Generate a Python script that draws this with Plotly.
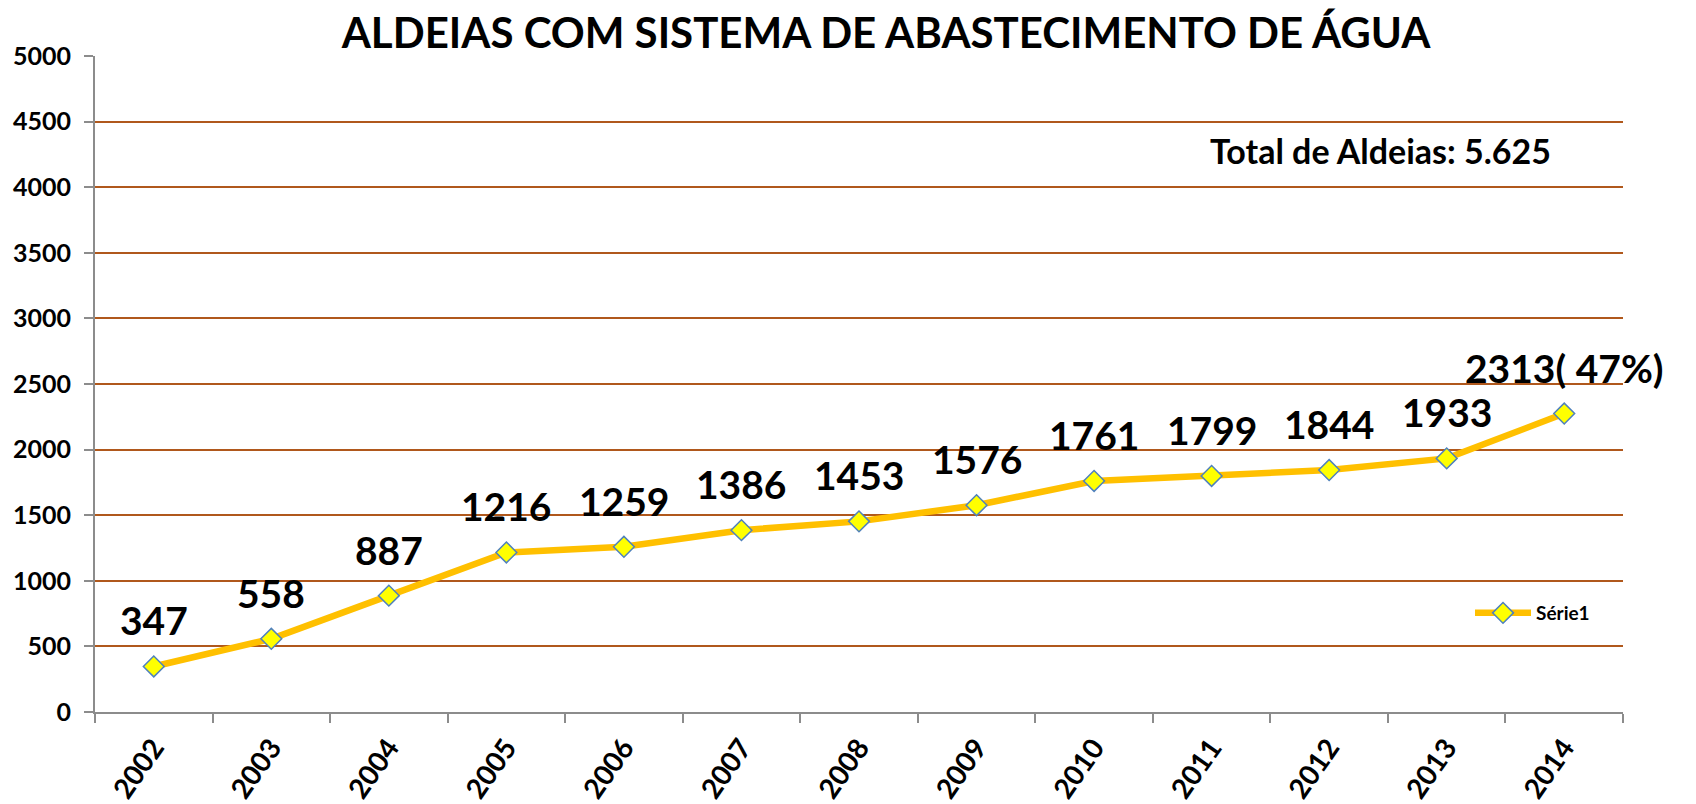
import plotly.graph_objects as go

years = ["2002", "2003", "2004", "2005", "2006", "2007", "2008",
         "2009", "2010", "2011", "2012", "2013", "2014"]
values = [347, 558, 887, 1216, 1259, 1386, 1453, 1576, 1761, 1799, 1844, 1933, 2275]
point_labels = ["347", "558", "887", "1216", "1259", "1386", "1453",
                "1576", "1761", "1799", "1844", "1933", "2313( 47%)"]
y_ticks = [0, 500, 1000, 1500, 2000, 2500, 3000, 3500, 4000, 4500, 5000]
series_name = "Série1"
title_text = "ALDEIAS COM SISTEMA DE ABASTECIMENTO DE ÁGUA"
total_text = "Total de Aldeias: 5.625"

FONT = "Lato"
GRID = "#B0581C"
AXIS = "#8C8C8C"

W, H = 1688, 796
L, R, T, B = 87, 73, 48, 92
PW, PH = W - L - R, H - T - B

fig = go.Figure()
fig.add_trace(go.Scatter(
    x=years, y=values, name=series_name, mode="lines+markers",
    line=dict(color="#FFC000", width=6.5),
    marker=dict(symbol="diamond", size=16, color="#FFFF00",
                line=dict(color="#4F81BD", width=1.5)),
))

for i, (v, lab) in enumerate(zip(values, point_labels)):
    fig.add_annotation(x=i, y=v, xref="x", yref="y", text=lab, showarrow=False,
                       xanchor="center", yanchor="middle", yshift=46,
                       font=dict(family=FONT, size=39, color="black", weight="bold"))

fig.add_annotation(x=(1380 - 8 - L) / PW, y=(704 - (151 - 8)) / PH, xref="paper", yref="paper",
                   text=total_text, showarrow=False, xanchor="center", yanchor="middle",
                   font=dict(family=FONT, size=34, color="black", weight="bold"))

fig.update_layout(
    width=W, height=H,
    margin=dict(l=L, r=R, t=T, b=B),
    paper_bgcolor="white", plot_bgcolor="white",
    title=dict(text=title_text, x=878 / W, xanchor="center", y=1 - 25 / H, yanchor="middle",
               font=dict(family=FONT, size=42, color="black", weight="bold")),
    showlegend=True,
    legend=dict(x=(1470 - 8 - L) / PW, y=(704 - (613 - 8)) / PH, xanchor="left", yanchor="middle",
                bgcolor="rgba(0,0,0,0)", itemwidth=56,
                font=dict(family=FONT, size=19, color="black", weight="bold")),
    xaxis=dict(type="category", tickangle=-55, showgrid=False, automargin=False,
               showline=True, linecolor=AXIS, linewidth=2,
               ticks="outside", tickson="boundaries", ticklen=9, tickcolor=AXIS, tickwidth=2,
               ticklabelstandoff=6,
               tickfont=dict(family=FONT, size=28, color="black", weight="bold"),
               range=[-0.5, len(years) - 0.5]),
    yaxis=dict(range=[0, 5000], tickvals=y_ticks, ticktext=[str(t) for t in y_ticks],
               showgrid=True, gridcolor=GRID, gridwidth=2, zeroline=False, automargin=False,
               showline=True, linecolor=AXIS, linewidth=2,
               ticks="outside", ticklen=9, tickcolor=AXIS, tickwidth=2,
               ticklabelstandoff=8,
               tickfont=dict(family=FONT, size=25, color="black", weight="bold")),
)

fig.write_html("out.html")
